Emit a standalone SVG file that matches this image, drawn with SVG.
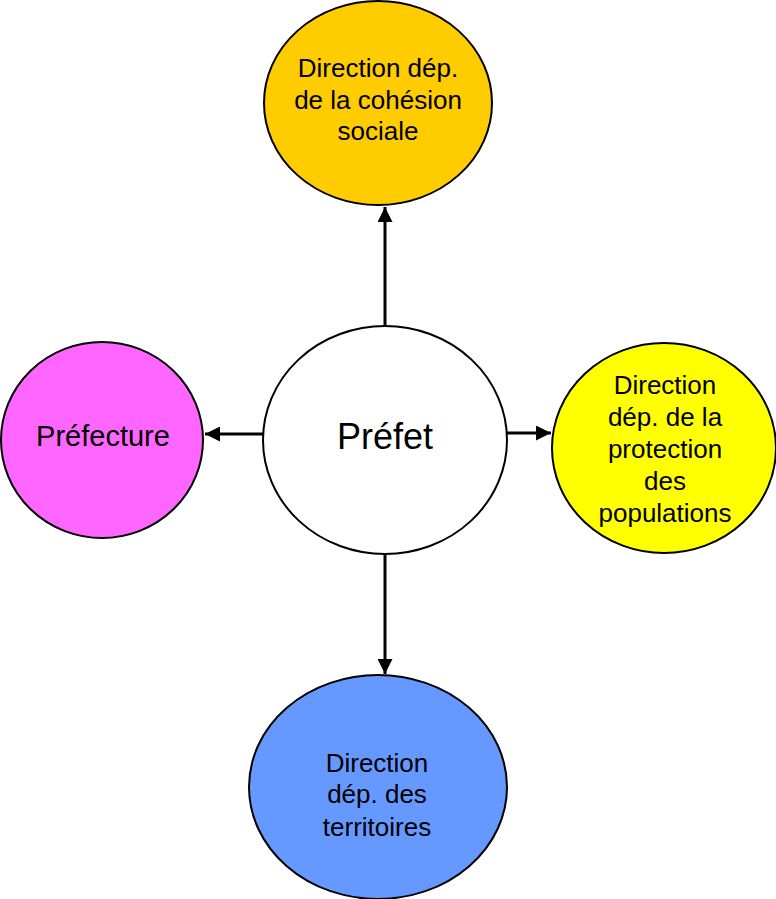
<svg xmlns="http://www.w3.org/2000/svg" width="776" height="899" viewBox="0 0 776 899">
<defs>
<style>
.n{stroke:#000;stroke-width:2}
.t{font-family:"Liberation Sans",Arial,sans-serif;font-size:26px;fill:#000;text-anchor:middle}
.c{stroke:#000;stroke-width:3;fill:none}
</style>
<marker id="ah" viewBox="0 0 10 10" refX="10" refY="5" markerWidth="17" markerHeight="15" markerUnits="userSpaceOnUse" orient="auto">
<path d="M0,0 L10,5 L0,10 z" fill="#000"/>
</marker>
</defs>
<rect width="776" height="899" fill="#fff"/>
<g id="connectors">
<line class="c" x1="385" y1="326" x2="385" y2="207" marker-end="url(#ah)"/>
<line class="c" x1="263" y1="434" x2="205" y2="434" marker-end="url(#ah)"/>
<line class="c" x1="507" y1="433" x2="551" y2="433" marker-end="url(#ah)"/>
<line class="c" x1="385" y1="554" x2="385" y2="674" marker-end="url(#ah)"/>
</g>
<g id="cohesion">
<ellipse class="n" cx="378" cy="103" rx="114" ry="102" fill="#ffcc00"/>
<text class="t" x="378" y="77">Direction dép.</text>
<text class="t" x="378" y="109">de la cohésion</text>
<text class="t" x="378" y="140">sociale</text>
</g>
<g id="prefet">
<ellipse class="n" cx="385" cy="440" rx="122" ry="114" fill="#fff"/>
<text class="t" x="385" y="449" style="font-size:36px">Préfet</text>
</g>
<g id="prefecture">
<ellipse class="n" cx="102" cy="440" rx="101" ry="98" fill="#ff66ff"/>
<text class="t" x="103" y="446" style="font-size:29px">Préfecture</text>
</g>
<g id="protection">
<ellipse class="n" cx="664" cy="448" rx="112" ry="105" fill="#ffff00"/>
<text class="t" x="665" y="394">Direction</text>
<text class="t" x="665" y="426">dép. de la</text>
<text class="t" x="665" y="458">protection</text>
<text class="t" x="665" y="490">des</text>
<text class="t" x="665" y="522">populations</text>
</g>
<g id="territoires">
<ellipse class="n" cx="378" cy="787" rx="129" ry="112" fill="#6699ff"/>
<text class="t" x="377" y="772">Direction</text>
<text class="t" x="377" y="803">dép. des</text>
<text class="t" x="377" y="836">territoires</text>
</g>
</svg>
